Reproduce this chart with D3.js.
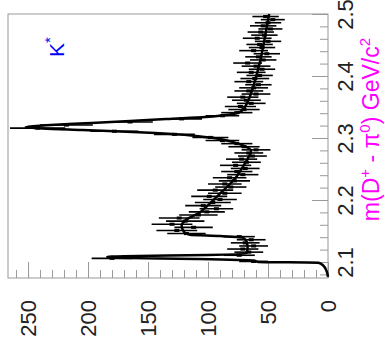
<!DOCTYPE html>
<html>
<head>
<meta charset="utf-8">
<script src="https://cdn.jsdelivr.net/npm/d3@7"></script>
<style>
body { margin: 0; background: #fff; }
svg { display: block; }
text { font-family: "Liberation Sans", Arial, sans-serif; }
</style>
</head>
<body>
<div id="chart"></div>
<script>
// histogram: 80 bins of 5 MeV starting at 2.100
var binLow = 2.100
var binWidth = 0.005
var counts = [62,180,74,66,71,62,69,64,74,118,
              126,112,130,119,124,108,101,93,104,96,
              90,99,86,94,81,86,78,82,71,76,
              69,77,68,72,63,66,60,70,76,88,
              98,128,178,242,218,165,122,88,76,70,
              73,64,68,71,60,66,62,58,66,61,
              57,64,55,60,67,54,58,51,62,55,
              57,50,59,53,56,48,54,50,46,52]
var errors = [12,17,13,12,13,12,12,12,13,16,
              17,16,17,16,17,16,15,14,15,15,
              14,15,14,15,13,14,13,14,13,13,
              12,13,12,13,12,12,12,13,13,14,
              15,17,20,23,22,19,17,14,13,13,
              13,12,12,13,12,12,12,11,12,12,
              11,12,11,12,12,11,11,11,12,11,
              11,11,12,11,11,10,11,11,10,11]

// fit curve
var fitMass = [2.0776,2.086,2.096,2.1005,2.1015,2.104,2.1065,2.1085,2.1097,2.111,
               2.113,2.1155,2.125,2.135,2.141,2.1435,2.1455,2.150,2.160,2.170,
               2.180,2.195,2.210,2.225,2.240,2.255,2.268,2.281,2.289,2.295,
               2.3016,2.305,2.308,2.311,2.3145,2.317,2.3194,2.322,2.3245,2.327,
               2.329,2.3323,2.3355,2.340,2.345,2.360,2.380,2.400,2.430,2.460,2.5016]
var fitValue = [0,1,4,8,58,62,110,176,184,170,
                100,68,67,68,71,90,115,120,122,118,
                108,99,91,83,76,71,67,64,70,79,
                95,110,130,158,205,238,252,235,212,185,
                165,135,102,80,72,67,63,60,56,53,49]

var massTicks = [2.1, 2.2, 2.3, 2.4, 2.5]
var countTicks = [0, 50, 100, 150, 200, 250]

var W = 385, H = 359
var frame = { left: 8, top: 14, right: 328, bottom: 278 }
var plotW = frame.bottom - frame.top   // mass axis (drawn upward)
var plotH = frame.right - frame.left   // count axis (drawn leftward)

var svg = d3.select("#chart").append("svg")
  .attr("width", W)
  .attr("height", H)

// whole plot is drawn normally then turned a quarter turn
var g = svg.append("g")
  .attr("transform", "translate(" + frame.left + "," + frame.bottom + ") rotate(-90)")

var x = d3.scaleLinear().domain([2.0758, 2.5016]).range([0, plotW])
var y = d3.scaleLinear().domain([0, 266.7]).range([plotH, 0])

g.append("rect")
  .attr("width", plotW)
  .attr("height", plotH)
  .attr("fill", "none")
  .attr("stroke", "#999")

var minorMass = d3.range(2.08, 2.5001, 0.02)
var minorCount = d3.range(0, 261, 10)

function styleAxis(sel) {
  sel.select(".domain").remove()
  sel.selectAll(".tick line").attr("stroke", "#999")
  sel.selectAll(".tick text")
    .attr("fill", "#222")
    .style("font-size", "22px")
    .style("font-family", "'Liberation Sans', Arial, sans-serif")
}

g.append("g")
  .attr("transform", "translate(0," + plotH + ")")
  .call(d3.axisBottom(x).tickValues(minorMass).tickSize(-8).tickFormat(""))
  .call(styleAxis)
g.append("g")
  .attr("transform", "translate(0," + plotH + ")")
  .call(d3.axisBottom(x).tickValues(massTicks).tickSize(-16).tickPadding(9).tickFormat(d3.format(".1f")))
  .call(styleAxis)

g.append("g")
  .call(d3.axisLeft(y).tickValues(minorCount).tickSize(-8).tickFormat(""))
  .call(styleAxis)
g.append("g")
  .call(d3.axisLeft(y).tickValues(countTicks).tickSize(-16).tickPadding(22).tickFormat(d3.format("d")))
  .call(styleAxis)

// data points with error bars
var bins = counts.map(function(c, i) {
  return { lo: binLow + i * binWidth, hi: binLow + (i + 1) * binWidth, c: c, e: errors[i] }
})
var pts = g.append("g").attr("stroke", "#000")
pts.selectAll(".ebar")
  .data(bins)
  .enter().append("line")
  .attr("class", "ebar")
  .attr("x1", function(d) { return x((d.lo + d.hi) / 2) })
  .attr("x2", function(d) { return x((d.lo + d.hi) / 2) })
  .attr("y1", function(d) { return y(d.c - d.e) })
  .attr("y2", function(d) { return y(Math.min(d.c + d.e, 266.7)) })
  .attr("stroke-width", 1.6)
pts.selectAll(".wbar")
  .data(bins)
  .enter().append("line")
  .attr("class", "wbar")
  .attr("x1", function(d) { return x(d.lo) })
  .attr("x2", function(d) { return x(d.hi) })
  .attr("y1", function(d) { return y(d.c) })
  .attr("y2", function(d) { return y(d.c) })
  .attr("stroke-width", 5)

// fit
var fitLine = d3.line()
  .x(function(d, i) { return x(fitMass[i]) })
  .y(function(d) { return y(d) })
  .curve(d3.curveMonotoneX)
g.append("path")
  .attr("d", fitLine(fitValue))
  .attr("fill", "none")
  .attr("stroke", "#000")
  .attr("stroke-width", 2.5)

// axis title
var title = g.append("text")
  .attr("x", 240)
  .attr("y", 371)
  .attr("text-anchor", "end")
  .attr("fill", "#ff00ff")
  .style("font-size", "23px")
title.append("tspan").text("m(D")
title.append("tspan").attr("dy", -9).style("font-size", "15px").text("+")
title.append("tspan").attr("dy", 9).text(" - π")
title.append("tspan").attr("dy", -9).style("font-size", "15px").text("0")
title.append("tspan").attr("dy", 9).text(") GeV/c")
title.append("tspan").attr("dy", -9).style("font-size", "15px").text("2")

// K* label
var klab = g.append("text")
  .attr("x", 221)
  .attr("y", 56)
  .attr("fill", "#0000ff")
  .style("font-size", "21px")
klab.append("tspan").text("K")
klab.append("tspan").attr("dy", -9).style("font-size", "15px").text("*")
</script>
</body>
</html>
